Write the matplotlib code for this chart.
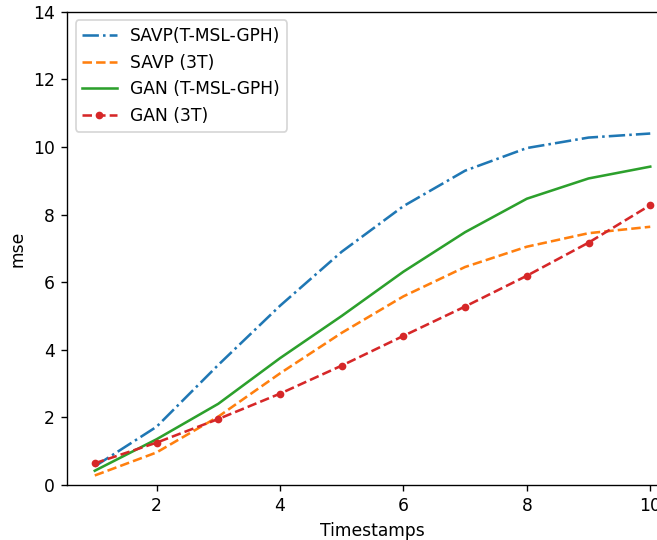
import matplotlib
matplotlib.use("Agg")
import matplotlib.pyplot as plt

timestamps = [1, 2, 3, 4, 5, 6, 7, 8, 9, 10]
savp_tmsl = [0.55, 1.72, 3.55, 5.3, 6.9, 8.25, 9.3, 9.97, 10.28, 10.4]
savp_3t = [0.28, 0.96, 2.02, 3.3, 4.5, 5.58, 6.45, 7.05, 7.45, 7.64]
gan_tmsl = [0.42, 1.35, 2.4, 3.75, 5.0, 6.31, 7.48, 8.47, 9.07, 9.42]
gan_3t = [0.64, 1.25, 1.95, 2.7, 3.53, 4.41, 5.28, 6.19, 7.17, 8.28]

DPI = 123
fig = plt.figure(figsize=(657 / DPI, 540 / DPI), dpi=DPI)
ax = fig.add_axes([0.102, 0.102, 0.93, 0.876])
ax.plot(timestamps, savp_tmsl, '-.', color='#1f77b4', label='SAVP(T-MSL-GPH)')
ax.plot(timestamps, savp_3t, '--', color='#ff7f0e', label='SAVP (3T)')
ax.plot(timestamps, gan_tmsl, '-', color='#2ca02c', label='GAN (T-MSL-GPH)')
ax.plot(timestamps, gan_3t, '--', marker='.', markersize=7, color='#d62728', label='GAN (3T)')
ax.set_ylim(0, 14)
ax.set_xticks([2, 4, 6, 8, 10])
ax.set_xlabel('Timestamps')
ax.set_ylabel('mse')
ax.legend(loc='upper left')
fig.savefig('out.png', dpi=DPI)
